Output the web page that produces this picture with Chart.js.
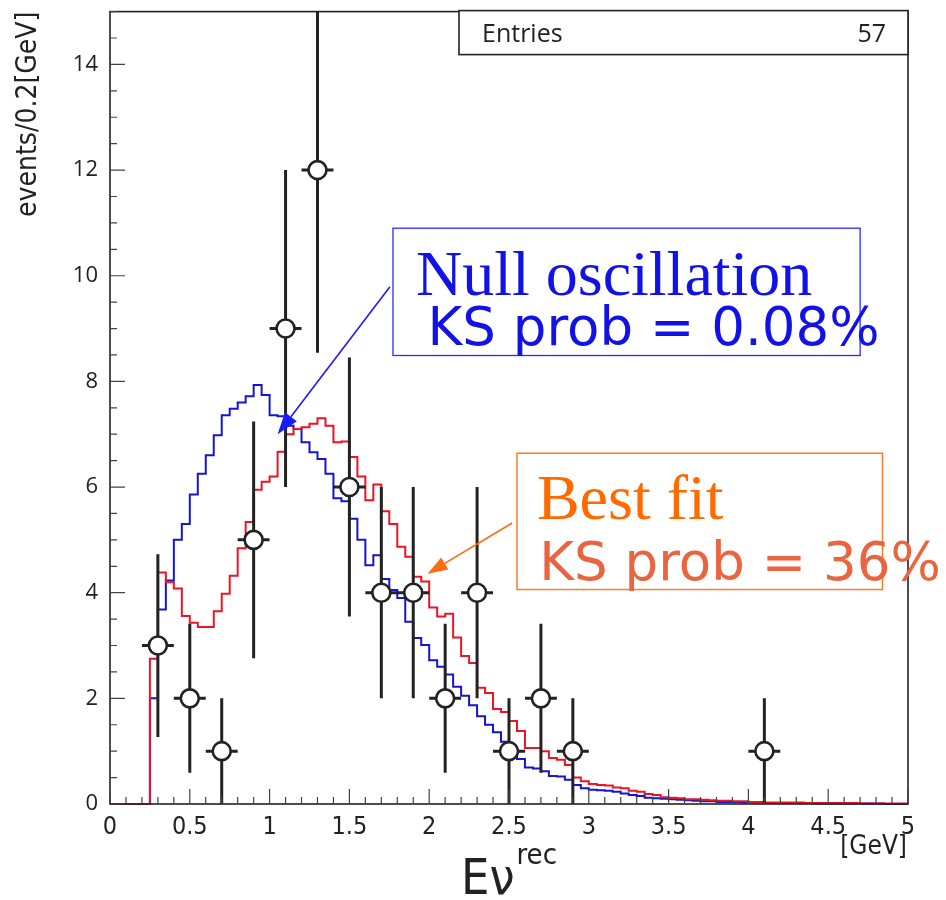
<!DOCTYPE html>
<html>
<head>
<meta charset="utf-8">
<script src="https://cdn.jsdelivr.net/npm/chart.js@4.4.1/dist/chart.umd.min.js"></script>
<style>
  html, body { margin: 0; padding: 0; background: #ffffff; }
  canvas { display: block; }
</style>
</head>
<body>
<canvas id="chart" width="946" height="900"></canvas>
<script>
// Reconstructed neutrino energy, 0.05 GeV bins from 0 to 5 GeV
const binWidth = 0.05;

// Expectation without oscillation (blue)
const nullOsc = [
  0, 0, 0, 0, 0, 2.0, 3.68, 4.23, 5.0, 5.3,
  5.86, 6.25, 6.6, 6.98, 7.36, 7.48, 7.6, 7.72, 7.93, 7.74,
  7.36, 7.34, 7.16, 7.1, 6.85, 6.66, 6.53, 6.25, 5.79, 5.73,
  5.4, 5.0, 4.52, 4.71, 4.26, 4.05, 3.9, 3.45, 3.14, 3.01,
  2.72, 2.6, 2.45, 2.22, 2.05, 1.87, 1.66, 1.5, 1.36, 1.18,
  1.0, 0.85, 0.69, 0.67, 0.62, 0.53, 0.52, 0.46, 0.36, 0.3,
  0.27, 0.26, 0.25, 0.23, 0.2, 0.17, 0.15, 0.12, 0.11, 0.1,
  0.09, 0.08, 0.07, 0.06, 0.05, 0.05, 0.04, 0.04, 0.04, 0.03,
  0.03, 0.03, 0.02, 0.02, 0.02, 0.02, 0.02, 0.02, 0.01, 0.01,
  0.01, 0.01, 0.01, 0.01, 0.01, 0.01, 0.01, 0.0, 0.0, 0.0
];

// Best-fit oscillated expectation (red)
const bestFit = [
  0, 0, 0, 0, 0, 2.75, 4.38, 4.2, 4.08, 3.56,
  3.43, 3.35, 3.35, 3.65, 3.98, 4.32, 4.84, 5.34, 5.95, 6.1,
  6.2, 6.67, 7.0, 7.1, 7.13, 7.2, 7.3, 7.16, 6.85, 6.86,
  6.57, 6.2, 5.75, 6.05, 5.54, 5.3, 4.87, 4.68, 4.3, 4.21,
  3.72, 3.55, 3.6, 3.15, 2.8, 2.67, 2.2, 2.1, 1.8, 1.74,
  1.57, 1.38, 1.06, 1.06, 1.0, 0.87, 0.84, 0.74, 0.5, 0.43,
  0.38, 0.36, 0.35, 0.31, 0.3, 0.25, 0.23, 0.19, 0.17, 0.13,
  0.12, 0.11, 0.09, 0.09, 0.08, 0.07, 0.06, 0.06, 0.05, 0.05,
  0.04, 0.04, 0.03, 0.03, 0.03, 0.03, 0.03, 0.02, 0.02, 0.02,
  0.02, 0.02, 0.02, 0.02, 0.01, 0.01, 0.01, 0.01, 0.01, 0.01
];

// Observed events, 0.2 GeV bins (centres), with their errors
const dataEnergy = [0.3, 0.5, 0.7, 0.9, 1.1, 1.3, 1.5, 1.7, 1.9, 2.1, 2.3, 2.5, 2.7, 2.9, 4.1];
const dataEvents = [3, 2, 1, 5, 9, 12, 6, 4, 4, 2, 4, 1, 2, 1, 1];
const dataError  = [1.73, 1.41, 1, 2.24, 3, 3.46, 2.45, 2, 2, 1.41, 2, 1, 1.41, 1, 1];
const dataHalfBin = 0.1;

// Axis ticks
const xTickValues = [0, 0.5, 1, 1.5, 2, 2.5, 3, 3.5, 4, 4.5, 5];
const xTickLabels = ['0', '0.5', '1', '1.5', '2', '2.5', '3', '3.5', '4', '4.5', '5'];
const yTickValues = [0, 2, 4, 6, 8, 10, 12, 14];
const yTickLabels = ['0', '2', '4', '6', '8', '10', '12', '14'];

const NARROW = '"Liberation Sans Narrow", "DejaVu Sans Condensed", "Roboto Condensed", Roboto, sans-serif';
const SERIF = '"Liberation Serif", "DejaVu Serif", serif';
const SANS = '"DejaVu Sans", Verdana, sans-serif';
const INK = '#222222';
const BLUE = '#1414d2';
const RED = '#ec1424';

// Bin edges with contents; the last edge closes the final bin
function histogramPoints(values) {
  const pts = values.map((v, i) => ({ x: i * binWidth, y: v }));
  pts.push({ x: values.length * binWidth, y: values[values.length - 1] });
  return pts;
}

// Vertical/horizontal error bars drawn under the open circles
const errorBars = {
  id: 'errorBars',
  beforeDatasetDraw(chart, args) {
    if (chart.data.datasets[args.index].label !== 'data') return;
    const { ctx, chartArea: a, scales: { x, y } } = chart;
    ctx.save();
    ctx.beginPath();
    ctx.rect(a.left, a.top, a.right - a.left, a.bottom - a.top);
    ctx.clip();
    ctx.strokeStyle = INK;
    ctx.lineWidth = 3;
    dataEnergy.forEach((e, i) => {
      const n = dataEvents[i], err = dataError[i];
      const px = x.getPixelForValue(e), py = y.getPixelForValue(n);
      ctx.beginPath();
      ctx.moveTo(px, y.getPixelForValue(n - err));
      ctx.lineTo(px, y.getPixelForValue(n + err));
      ctx.moveTo(x.getPixelForValue(e - dataHalfBin), py);
      ctx.lineTo(x.getPixelForValue(e + dataHalfBin), py);
      ctx.stroke();
    });
    ctx.restore();
  }
};

function drawArrow(ctx, x0, y0, x1, y1, color, width, headLen, headW) {
  const ang = Math.atan2(y1 - y0, x1 - x0);
  const bx = x1 - headLen * Math.cos(ang), by = y1 - headLen * Math.sin(ang);
  ctx.strokeStyle = color;
  ctx.lineWidth = width;
  ctx.beginPath();
  ctx.moveTo(x0, y0);
  ctx.lineTo(bx, by);
  ctx.stroke();
  ctx.fillStyle = color;
  ctx.beginPath();
  ctx.moveTo(x1, y1);
  ctx.lineTo(bx + headW / 2 * Math.sin(ang), by - headW / 2 * Math.cos(ang));
  ctx.lineTo(bx - headW / 2 * Math.sin(ang), by + headW / 2 * Math.cos(ang));
  ctx.closePath();
  ctx.fill();
}

// Frame, inward ticks, statistics box, axis captions and the KS annotations
const decorations = {
  id: 'decorations',
  afterDraw(chart) {
    const { ctx, chartArea: a, scales: { x, y } } = chart;
    const X = v => x.getPixelForValue(v), Y = v => y.getPixelForValue(v);
    ctx.save();

    // frame
    ctx.strokeStyle = INK;
    ctx.lineWidth = 1.6;
    ctx.strokeRect(a.left, a.top, a.right - a.left, a.bottom - a.top);

    // inward ticks
    ctx.lineWidth = 1.2;
    ctx.strokeStyle = '#444';
    ctx.beginPath();
    for (let k = 0; k <= 50; k++) {
      const px = X(k * 0.1);
      const len = (k % 5 === 0) ? 15 : 7;
      ctx.moveTo(px, a.bottom);
      ctx.lineTo(px, a.bottom - len);
    }
    for (let k = 0; k <= 30; k++) {
      const py = Y(k * 0.5);
      if (py < a.top) continue;
      const len = (k % 4 === 0) ? 15 : 7;
      ctx.moveTo(a.left, py);
      ctx.lineTo(a.left + len, py);
    }
    ctx.stroke();

    // statistics box
    const entries = dataEvents.reduce((s, v) => s + v, 0);
    const bx0 = a.right - 449, by0 = a.top - 1, bx1 = a.right, by1 = a.top + 43;
    ctx.fillStyle = '#ffffff';
    ctx.fillRect(bx0, by0, bx1 - bx0, by1 - by0);
    ctx.strokeStyle = INK;
    ctx.lineWidth = 1.6;
    ctx.strokeRect(bx0, by0, bx1 - bx0, by1 - by0);
    ctx.fillStyle = INK;
    ctx.font = '25px "Open Sans", sans-serif';
    ctx.textBaseline = 'alphabetic';
    ctx.textAlign = 'left';
    ctx.fillText('Entries', bx0 + 23, by0 + 31);
    ctx.textAlign = 'right';
    ctx.fillText(String(entries), bx1 - 22, by0 + 31);

    // x axis caption
    ctx.fillStyle = INK;
    ctx.textAlign = 'right';
    ctx.font = '26px ' + NARROW;
    ctx.fillText('[GeV]', a.right - 1, a.bottom + 50);
    const cx = (a.left + a.right) / 2;
    ctx.font = '50px ' + NARROW;
    const wMain = ctx.measureText('E\u03bd').width;
    ctx.font = '29px ' + NARROW;
    const wSup = ctx.measureText('rec').width;
    const start = cx - (wMain + 2 + wSup) / 2;
    ctx.textAlign = 'left';
    ctx.font = '50px ' + NARROW;
    ctx.fillText('E\u03bd', start, a.bottom + 90);
    ctx.font = '29px ' + NARROW;
    ctx.fillText('rec', start + wMain + 2, a.bottom + 60);

    // Null oscillation note
    ctx.strokeStyle = '#2a2aff';
    ctx.lineWidth = 1.3;
    ctx.strokeRect(X(1.773), Y(10.9), X(4.70) - X(1.773), Y(8.49) - Y(10.9));
    ctx.fillStyle = '#1212e6';
    ctx.font = '64px ' + SERIF;
    ctx.fillText('Null oscillation', X(1.917), Y(9.64));
    ctx.font = '53px ' + SANS;
    ctx.fillText('KS prob = 0.08%', X(1.99), Y(8.68));
    drawArrow(ctx, X(1.754), Y(9.79), X(1.05), Y(7.0), '#1a1aff', 1.6, 22, 15);

    // Best fit note
    ctx.strokeStyle = '#ff7a2a';
    ctx.lineWidth = 1.5;
    ctx.strokeRect(X(2.55), Y(6.64), X(4.84) - X(2.55), Y(4.06) - Y(6.64));
    ctx.fillStyle = '#ff6a00';
    ctx.font = '64px ' + SERIF;
    ctx.fillText('Best fit', X(2.675), Y(5.40));
    ctx.fillStyle = '#ea6440';
    ctx.font = '53px ' + SANS;
    ctx.fillText('KS prob = 36%', X(2.69), Y(4.245));
    drawArrow(ctx, X(2.52), Y(5.32), X(1.99), Y(4.36), '#ff6a10', 1.6, 20, 14);

    ctx.restore();
  }
};

function pinScale(dim, size) {
  return s => {
    s[dim] = size;
    s.paddingLeft = 0;
    s.paddingRight = 0;
    s.paddingTop = 0;
    s.paddingBottom = 0;
  };
}

new Chart(document.getElementById('chart'), {
  type: 'line',
  data: {
    datasets: [
      {
        label: 'data',
        type: 'scatter',
        data: dataEnergy.map((e, i) => ({ x: e, y: dataEvents[i] })),
        showLine: false,
        pointRadius: 9,
        pointBackgroundColor: '#ffffff',
        pointBorderColor: INK,
        pointBorderWidth: 2.6,
        order: 0
      },
      {
        label: 'best fit',
        data: histogramPoints(bestFit),
        stepped: 'before',
        borderColor: RED,
        borderWidth: 2,
        pointRadius: 0,
        fill: false,
        clip: 3,
        order: 1
      },
      {
        label: 'null oscillation',
        data: histogramPoints(nullOsc),
        stepped: 'before',
        borderColor: BLUE,
        borderWidth: 2,
        pointRadius: 0,
        fill: false,
        clip: 3,
        order: 2
      }
    ]
  },
  options: {
    responsive: false,
    animation: false,
    devicePixelRatio: 1,
    events: [],
    layout: { padding: { top: 7, right: 38, left: 0, bottom: 0 } },
    plugins: { legend: { display: false }, tooltip: { enabled: false } },
    scales: {
      x: {
        type: 'linear',
        min: 0,
        max: 5,
        grid: { display: false, drawTicks: false },
        border: { display: false },
        afterBuildTicks: s => { s.ticks = xTickValues.map(v => ({ value: v })); },
        afterFit: pinScale('height', 96),
        ticks: {
          padding: 8,
          color: INK,
          maxRotation: 0,
          autoSkip: false,
          font: { family: NARROW, size: 25 },
          callback: (v, i) => xTickLabels[i]
        }
      },
      y: {
        type: 'linear',
        min: 0,
        max: 15,
        grid: { display: false, drawTicks: false },
        border: { display: false },
        afterBuildTicks: s => { s.ticks = yTickValues.map(v => ({ value: v })); },
        afterFit: pinScale('width', 110),
        ticks: {
          padding: 12,
          color: INK,
          autoSkip: false,
          font: { family: '"Open Sans", sans-serif', size: 22 },
          callback: (v, i) => yTickLabels[i]
        },
        title: {
          display: true,
          text: 'events/0.2[GeV]',
          align: 'end',
          color: INK,
          font: { family: NARROW, size: 28 },
          padding: { top: 12, bottom: 0 }
        }
      }
    }
  },
  plugins: [errorBars, decorations]
});
</script>
</body>
</html>
